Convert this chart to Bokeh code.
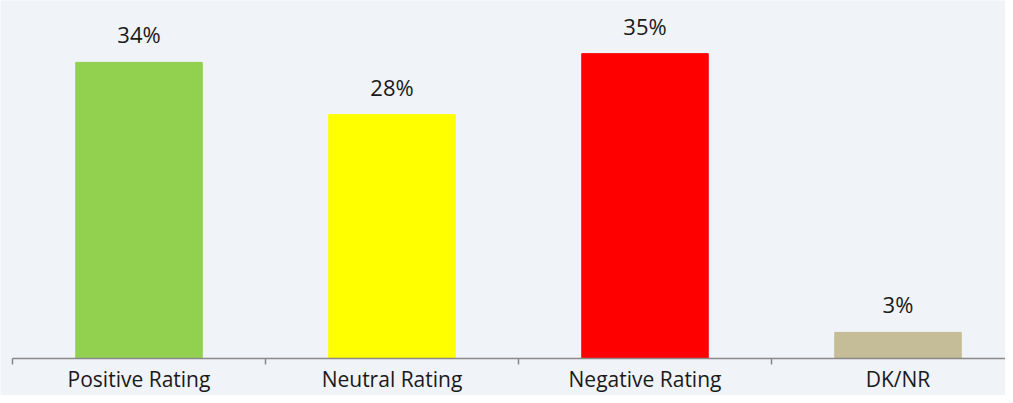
from bokeh.plotting import figure
from bokeh.models import ColumnDataSource, FixedTicker, Range1d
from bokeh.core.properties import value
from bokeh.embed import file_html
from bokeh.resources import INLINE

categories = ["Positive Rating", "Neutral Rating", "Negative Rating", "DK/NR"]
values = [34, 28, 35, 3]
colors = ["#92d050", "#ffff00", "#ff0000", "#c4bd97"]
labels = ["34%", "28%", "35%", "3%"]

x_pos = [i + 0.5 for i in range(len(categories))]
src = ColumnDataSource(dict(x=x_pos, top=values, color=colors, label=labels))

W, H = 1005, 395
px_x = 253.0
px_y = 8.71
x0 = -12.0 / px_x
p = figure(width=W, height=H, output_backend="svg", toolbar_location=None,
           x_range=Range1d(x0, x0 + W / px_x),
           y_range=Range1d(-(H - 358) / px_y, 358 / px_y),
           min_border_left=0, min_border_right=0, min_border_top=0, min_border_bottom=0)
p.background_fill_color = "#f0f3f7"
p.border_fill_color = "#f0f3f7"
p.outline_line_color = None
p.grid.visible = False
p.yaxis.visible = False

p.vbar(x="x", top="top", width=0.5, color="color", source=src)
p.text(x="x", y="top", text="label", source=src, text_align="center", text_baseline="middle",
       y_offset=-28, text_font=value("Open Sans"), text_font_size="22px", text_color="#1a1a1a")

ax = p.xaxis[0]
ax.fixed_location = 0
ax.ticker = FixedTicker(ticks=x_pos, minor_ticks=[0, 1, 2, 3, 4])
ax.major_label_overrides = {x: c for x, c in zip(x_pos, categories)}
ax.bounds = (0, 4)
ax.axis_line_color = "#898989"
ax.axis_line_width = 1.5
ax.major_tick_out = 0
ax.major_tick_in = 0
ax.minor_tick_out = 6
ax.minor_tick_in = 0
ax.minor_tick_line_color = "#898989"
ax.minor_tick_line_width = 1.5
ax.major_label_standoff = 0
ax.major_label_text_font = "Open Sans"
ax.major_label_text_font_size = "21px"
ax.major_label_text_color = "#1a1a1a"

open("out.html", "w").write(file_html(p, INLINE))
